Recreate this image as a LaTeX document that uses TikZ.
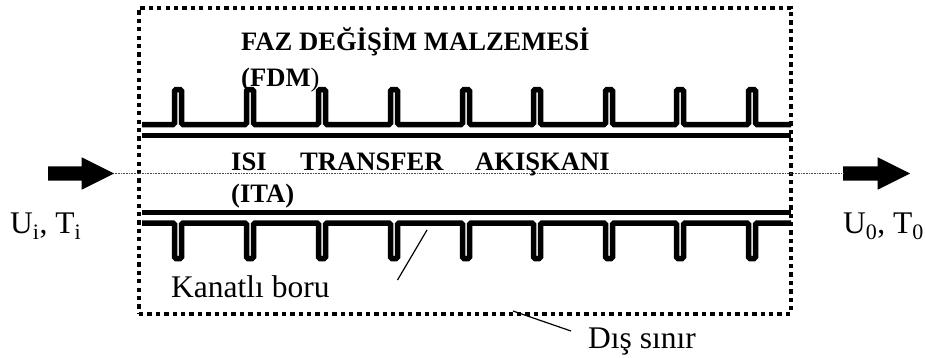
\documentclass[tikz,border=0pt]{standalone}
\usepackage{fontspec}
\setmainfont{Liberation Serif}
\usetikzlibrary{shapes.arrows}
\tikzset{
  flowarrow/.style={single arrow,fill=black,draw=none,inner xsep=0pt,inner ysep=7pt,anchor=tail,
    single arrow head extend=9pt,single arrow tip angle=53,minimum width=32pt,text width=0pt},
  border/.style={draw=black,line width=4pt,dash pattern=on 4.3pt off 4.1pt,minimum width=652pt,minimum height=306pt,inner sep=0pt},
  flowline/.style={draw=black!70,line width=0.7pt,dash pattern=on 0.8pt off 0.8pt},
  wall/.style={line width=5.5pt,rounded corners=1.5pt,line join=miter},
  tube/.style={line width=5.5pt},
  leader/.style={line width=1.2pt},
  lab/.style={anchor=base west,inner sep=0pt,font=\fontsize{31.5}{31.5}\selectfont},
  blab/.style={anchor=base west,inner sep=0pt,font=\fontsize{26.6}{26.6}\selectfont\bfseries}
}
\begin{document}
\begin{tikzpicture}[x=1pt,y=-1pt]
\useasboundingbox (0,0) rectangle (925,357);
\fill[white] (0,0) rectangle (925,357);
\node[border] (box) at (465,160.5) {};
\node[flowarrow,minimum height=66pt] (inA) at (48,173.5) {};
\node[flowarrow,minimum height=67pt] (outA) at (843,173.5) {};
\draw[flowline] (inA.tip) -- (outA.tail);
\draw[wall] (142,124.5) \foreach \x in {178,250,322,394,466,537,609,680,752}
  { -- (\x-3.5,124.5) -- (\x-3.5,89.5) -- (\x+3.5,89.5) -- (\x+3.5,124.5) } -- (791,124.5);
\draw[tube] (142,135.5) -- (791,135.5);
\draw[tube] (142,212.5) -- (791,212.5);
\draw[wall] (142,223) \foreach \x in {178,250,322,394,466,537,609,680,752}
  { -- (\x-3.5,223) -- (\x-3.5,258.5) -- (\x+3.5,258.5) -- (\x+3.5,223) } -- (791,223);
\node[blab] (fazA) at (241,50) {FAZ DEĞİŞİM MALZEMESİ};
\node[blab] (fdm) at (241,86) {(FDM\textmd{)}};
\node[blab] (isi) at (231,170) {ISI};
\node[blab] (transfer) at (300,170) {TRANSFER};
\node[blab] (akiskani) at (475,170) {AKIŞKANI};
\node[blab] (ita) at (231,202) {(ITA)};
\node[lab] (ui) at (10,233) {U\textsubscript{i}, T\textsubscript{i}};
\node[lab] (uo) at (843,233) {U\textsubscript{0}, T\textsubscript{0}};
\node[lab] (kanat) at (171,297) {Kanatlı boru};
\node[lab] (dis) at (588,348) {Dış sınır};
\coordinate (kfrom) at (397.5,280);
\coordinate (kto) at (427,230);
\coordinate (dfrom) at (571,331);
\coordinate (dto) at (513,311);
\draw[leader] (kfrom) -- (kto);
\draw[leader] (dfrom) -- (dto);
\end{tikzpicture}
\end{document}
